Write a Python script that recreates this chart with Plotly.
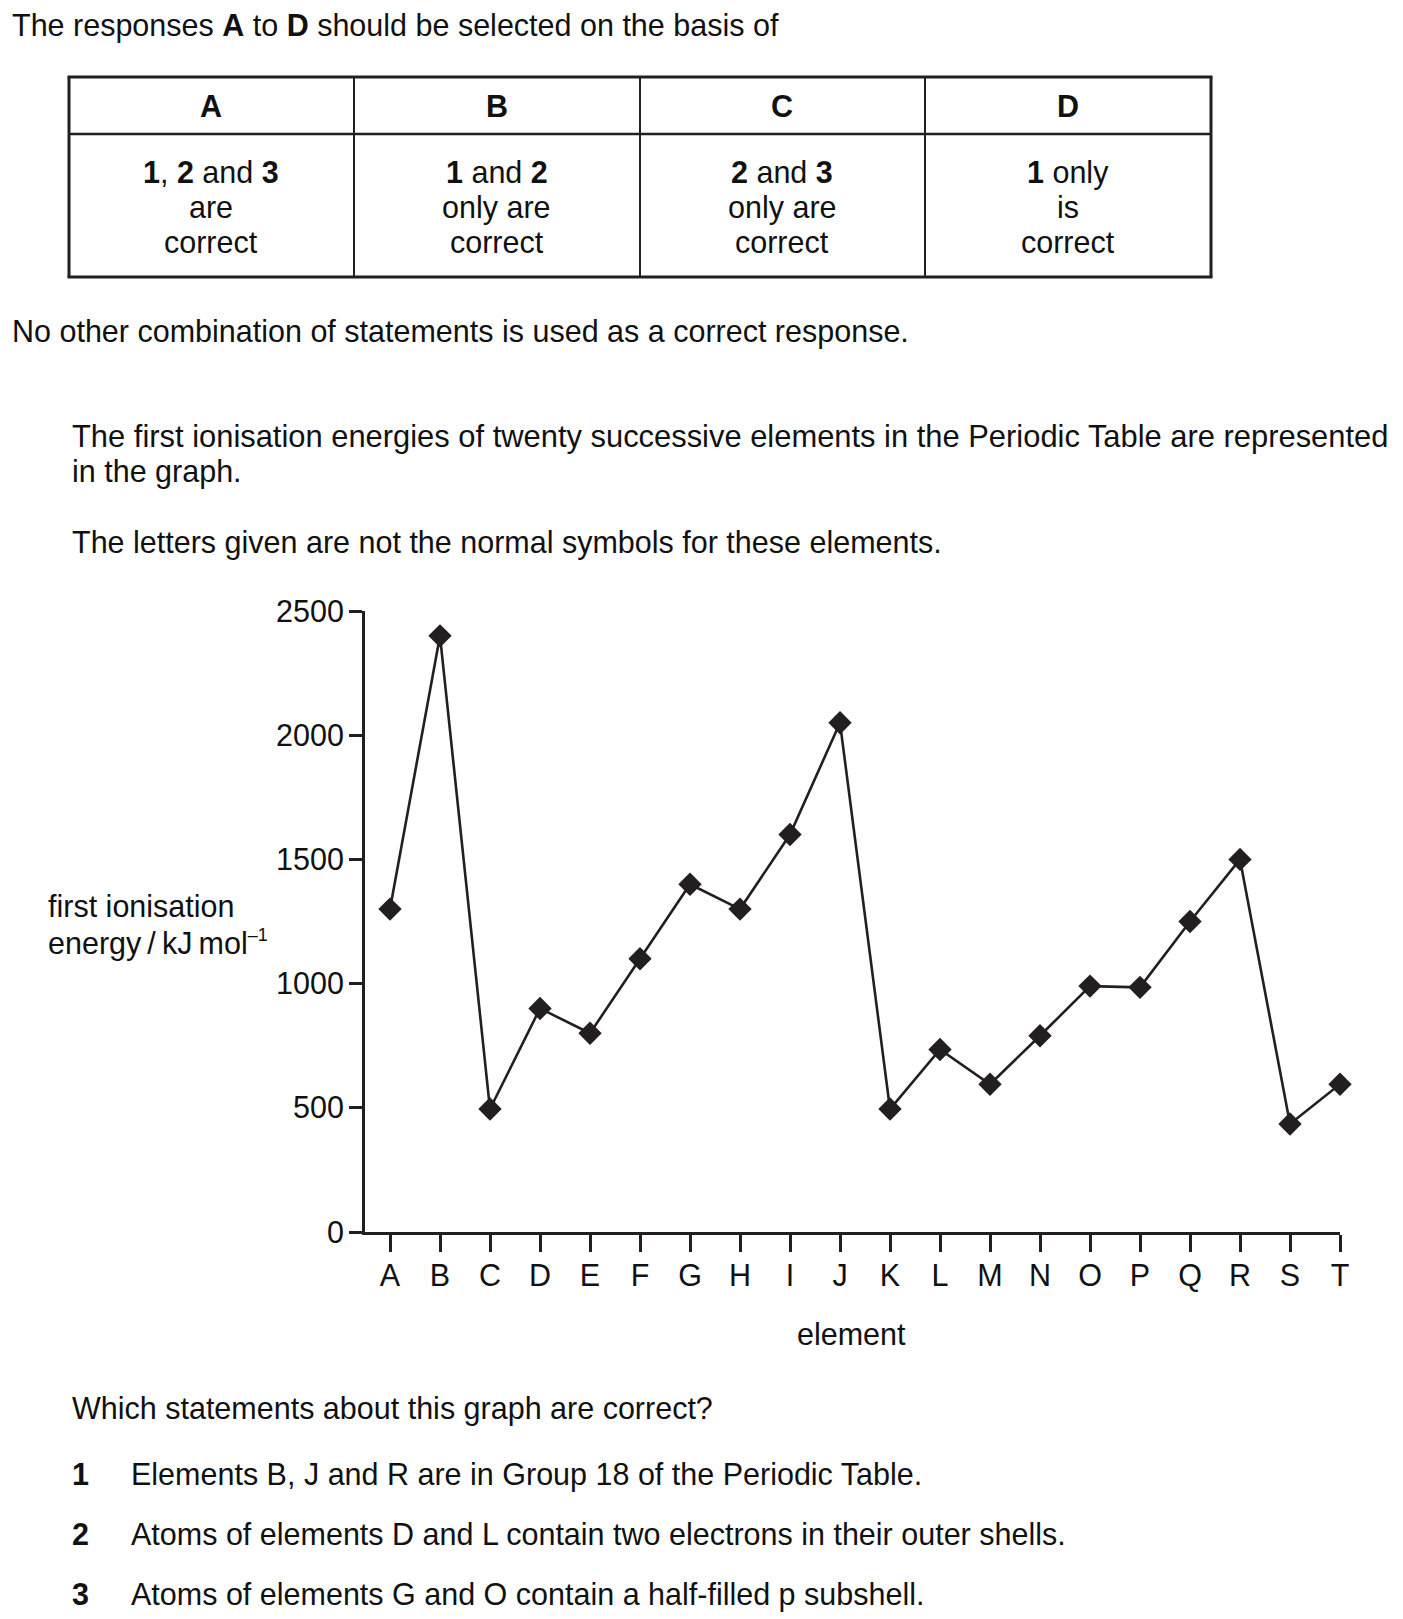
import plotly.graph_objects as go

# ---------------- data ----------------
elements = ["A", "B", "C", "D", "E", "F", "G", "H", "I", "J",
            "K", "L", "M", "N", "O", "P", "Q", "R", "S", "T"]
ionisation_energy = [1300, 2400, 495, 900, 800, 1100, 1400, 1300, 1600, 2050,
                     495, 735, 595, 790, 990, 985, 1250, 1500, 435, 595]
y_ticks = [0, 500, 1000, 1500, 2000, 2500]

table_headers = ["A", "B", "C", "D"]
table_cells = [
    ["<b>1</b>, <b>2</b> and <b>3</b>", "are", "correct"],
    ["<b>1</b> and <b>2</b>", "only are", "correct"],
    ["<b>2</b> and <b>3</b>", "only are", "correct"],
    ["<b>1</b> only", "is", "correct"],
]
statement_numbers = ["1", "2", "3"]
statements = [
    "Elements B, J and R are in Group 18 of the Periodic Table.",
    "Atoms of elements D and L contain two electrons in their outer shells.",
    "Atoms of elements G and O contain a half-filled p subshell.",
]

# ---------------- layout helpers ----------------
W, H = 1403, 1619
FONT = "Liberation Sans, Arial, Helvetica, sans-serif"
INK = "#231f20"
TXT = "#111111"
FS = 30.5


def X(px):
    return px / W


def Y(py):
    return 1 - py / H


annotations = []


def text(s, x, y, anchor="left", size=FS):
    annotations.append(dict(
        text=s, x=X(x), y=Y(y), xref="paper", yref="paper",
        xanchor=anchor, yanchor="middle", showarrow=False,
        font=dict(family=FONT, size=size, color=TXT), align="left"))


shapes = []


def hline(x0, x1, y, w):
    shapes.append(dict(type="line", xref="paper", yref="paper",
                       x0=X(x0), x1=X(x1), y0=Y(y), y1=Y(y),
                       line=dict(color=INK, width=w)))


def vline(x, y0, y1, w):
    shapes.append(dict(type="line", xref="paper", yref="paper",
                       x0=X(x), x1=X(x), y0=Y(y0), y1=Y(y1),
                       line=dict(color=INK, width=w)))


# ---------------- text above chart ----------------
text("The responses <b>A</b> to <b>D</b> should be selected on the basis of", 10, 25)

# table
t_left, t_right, t_top, t_mid, t_bot = 69, 1211, 77, 134, 277
col_edges = [69, 354, 640, 925, 1211]
hline(t_left - 1.5, t_right + 1.5, t_top, 3)
hline(t_left, t_right, t_mid, 2.5)
hline(t_left - 1.5, t_right + 1.5, t_bot, 3)
for i, cx in enumerate(col_edges):
    vline(cx, t_top, t_bot, 3 if i in (0, len(col_edges) - 1) else 2)
cell_line_y = [172, 207, 242]
for i, (hdr, cell) in enumerate(zip(table_headers, table_cells)):
    cx = (col_edges[i] + col_edges[i + 1]) / 2
    text("<b>" + hdr + "</b>", cx, 106, anchor="center")
    for line, ly in zip(cell, cell_line_y):
        text(line, cx, ly, anchor="center")

text("No other combination of statements is used as a correct response.", 10, 332)
text("The first ionisation energies of twenty successive elements in the Periodic Table are represented", 70, 437, size=30.9)
text("in the graph.", 70, 472)
text("The letters given are not the normal symbols for these elements.", 70, 542)

# axis labels
text("first ionisation", 46, 906)
text("energy\u2009/\u2009kJ\u2009mol<sup><span style='font-size:18px'>\u20131</span></sup>", 46, 943)
text("element", 851, 1334, anchor="center")

# questions
text("Which statements about this graph are correct?", 70, 1408)
for num, st, sy in zip(statement_numbers, statements, [1474, 1534, 1594]):
    text("<b>" + num + "</b>", 70, sy)
    text(st, 129, sy)

# ---------------- chart ----------------
fig = go.Figure()
fig.add_trace(go.Scatter(
    x=elements, y=ionisation_energy, mode="lines+markers",
    line=dict(color=INK, width=2.6),
    marker=dict(symbol="diamond", size=18, color=INK, line=dict(width=0)),
    cliponaxis=False, showlegend=False, hoverinfo="x+y"))

x_left_px, x_right_px = 365, 1340
y_bot_px, y_top_px = 1232, 611

fig.update_layout(
    width=W, height=H, autosize=False,
    margin=dict(l=0, r=0, t=0, b=0, pad=0, autoexpand=False),
    paper_bgcolor="white", plot_bgcolor="white",
    showlegend=False,
    font=dict(family=FONT, size=FS, color=TXT),
    xaxis=dict(
        domain=[X(x_left_px), X(x_right_px)],
        type="category", categoryorder="array", categoryarray=elements,
        range=[-0.5, 19], automargin=False,
        showline=True, linewidth=3, linecolor=INK,
        ticks="outside", ticklen=17, tickwidth=2.5, tickcolor=INK,
        ticklabelstandoff=-3,
        showgrid=False, zeroline=False,
        tickfont=dict(family=FONT, size=FS, color=TXT),
        fixedrange=True,
    ),
    yaxis=dict(
        domain=[Y(y_bot_px), Y(y_top_px)],
        range=[0, 2500], tickvals=y_ticks, automargin=False,
        showline=True, linewidth=3, linecolor=INK,
        ticks="outside", ticklen=13, tickwidth=2.5, tickcolor=INK,
        ticklabelstandoff=-1,
        showgrid=False, zeroline=False,
        tickfont=dict(family=FONT, size=FS, color=TXT),
        fixedrange=True,
    ),
    annotations=annotations,
    shapes=shapes,
)

fig.write_html("out.html")
